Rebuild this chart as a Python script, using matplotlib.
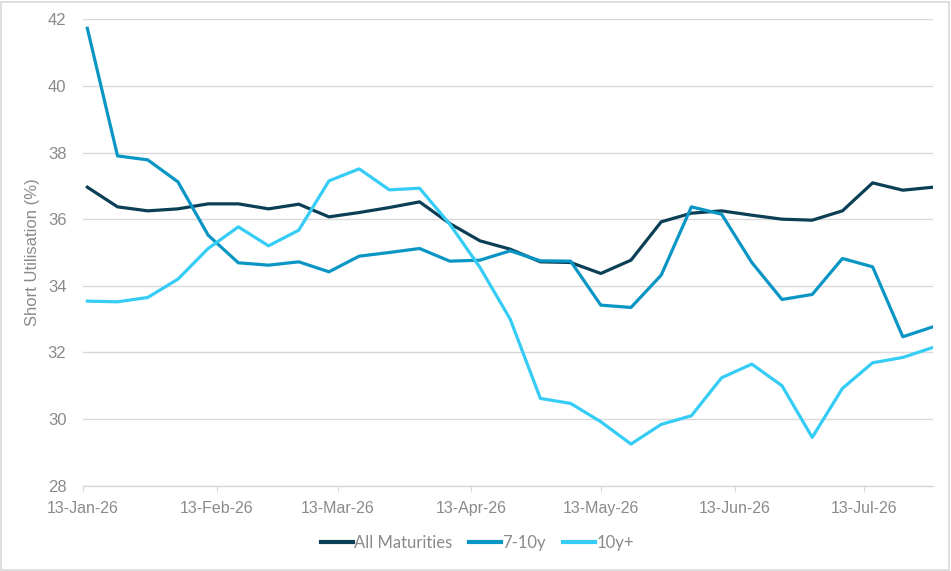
import numpy as np
import pandas as pd
import matplotlib
matplotlib.use('Agg')
import matplotlib.pyplot as plt
import matplotlib.dates as mdates
from matplotlib.patches import Rectangle

# weekly observations
dates = pd.date_range('2026-01-14', periods=29, freq='7D')

all_maturities = [36.96, 36.37, 36.25, 36.31, 36.46, 36.46, 36.31, 36.45, 36.07, 36.20,
                  36.35, 36.52, 35.87, 35.35, 35.10, 34.72, 34.70, 34.37, 34.77, 35.92,
                  36.18, 36.25, 36.12, 36.00, 35.97, 36.25, 37.09, 36.87, 36.96]
y7_10 = [41.73, 37.90, 37.78, 37.12, 35.52, 34.69, 34.62, 34.72, 34.42, 34.89,
         35.00, 35.12, 34.74, 34.77, 35.05, 34.75, 34.74, 33.42, 33.35, 34.32,
         36.37, 36.15, 34.70, 33.59, 33.74, 34.82, 34.57, 32.47, 32.77]
y10_plus = [33.54, 33.52, 33.65, 34.20, 35.12, 35.77, 35.20, 35.67, 37.15, 37.51,
            36.88, 36.93, 35.85, 34.55, 33.00, 30.62, 30.47, 29.92, 29.25, 29.84,
            30.10, 31.24, 31.65, 31.00, 29.45, 30.92, 31.69, 31.85, 32.15]

tick_dates = pd.to_datetime(['2026-01-13', '2026-02-13', '2026-03-13', '2026-04-13',
                             '2026-05-13', '2026-06-13', '2026-07-13'])
y_ticks = [28, 30, 32, 34, 36, 38, 40, 42]

grey = '#8a8a8a'
grid_col = '#d9d9d9'

fig = plt.figure(figsize=(9.51, 5.71), dpi=100)
ax = fig.add_axes([0.0873, 0.1494, 0.8938, 0.8168])

ax.plot(dates, all_maturities, color='#0b3f55', lw=2.3, label='All Maturities', solid_joinstyle='round')
ax.plot(dates, y7_10, color='#0a96c4', lw=2.3, label='7-10y', solid_joinstyle='round')
ax.plot(dates, y10_plus, color='#35ccf6', lw=2.3, label='10y+', solid_joinstyle='round')

ax.set_xlim(pd.Timestamp('2026-01-13'), pd.Timestamp('2026-07-29'))
ax.set_ylim(28, 42)
ax.set_yticks(y_ticks)
ax.set_xticks(tick_dates)
ax.xaxis.set_major_formatter(mdates.DateFormatter('%d-%b-%y'))

for s in ['top', 'right', 'left']:
    ax.spines[s].set_visible(False)
ax.spines['bottom'].set_color(grid_col)
ax.spines['bottom'].set_linewidth(1.0)

ax.grid(axis='y', color=grid_col, lw=1.0)
ax.set_axisbelow(True)
ax.tick_params(axis='y', length=0, pad=12, labelsize=12, labelcolor=grey)
ax.tick_params(axis='x', length=4, color=grid_col, pad=7, labelsize=11.5, labelcolor=grey)
for lbl in ax.get_xticklabels() + ax.get_yticklabels():
    lbl.set_family('Liberation Sans')

ax.set_ylabel('Short Utilisation (%)', color=grey, fontsize=12, family='Liberation Sans')
ax.yaxis.set_label_coords(-0.051, 0.5)

leg = ax.legend(loc='center', bbox_to_anchor=(0.464, -0.123), ncol=3, frameon=False,
                handlelength=1.9, handletextpad=0.1, columnspacing=1.0,
                prop={'family': 'Lato', 'size': 12})
for t in leg.get_texts():
    t.set_color(grey)
for h in leg.get_lines():
    h.set_linewidth(3)

# chart area border
fig.patches.append(Rectangle((0.001, 0.002), 0.997, 0.995, transform=fig.transFigure,
                             fill=False, edgecolor='#d9d9d9', lw=1.2))

fig.savefig('out.png', dpi=100)
